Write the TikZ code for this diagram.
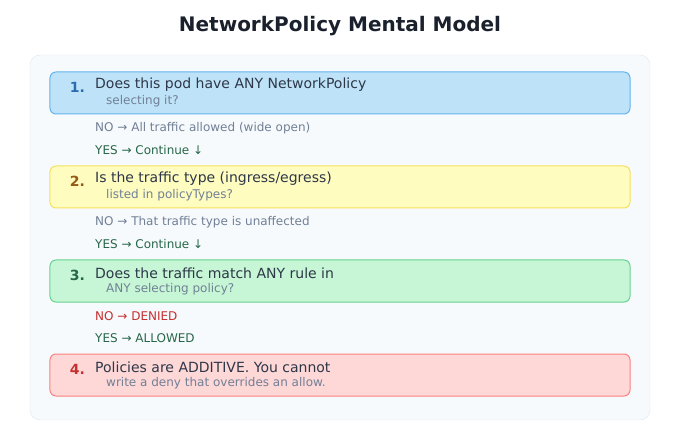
\documentclass[tikz,border=0pt]{standalone}
\usepackage{fontspec}
\setmainfont{DejaVu Sans}
\usepackage{tikz}

\definecolor{panelfill}{HTML}{F7FAFC}
\definecolor{paneldraw}{HTML}{E2E8F0}
\definecolor{bluefill}{HTML}{BEE3F8}
\definecolor{bluedraw}{HTML}{63B3ED}
\definecolor{bluenum}{HTML}{2B6CB0}
\definecolor{yelfill}{HTML}{FEFCBF}
\definecolor{yeldraw}{HTML}{F6E05E}
\definecolor{yelnum}{HTML}{975A16}
\definecolor{grnfill}{HTML}{C6F6D5}
\definecolor{grndraw}{HTML}{68D391}
\definecolor{grnnum}{HTML}{276749}
\definecolor{redfill}{HTML}{FED7D7}
\definecolor{reddraw}{HTML}{FC8181}
\definecolor{rednum}{HTML}{C53030}
\definecolor{maintext}{HTML}{2D3748}
\definecolor{subtext}{HTML}{718096}
\definecolor{titletext}{HTML}{1A202C}

\tikzset{
  stepbox/.style={draw, rounded corners=6bp, line width=1bp, minimum width=580bp, minimum height=42bp, inner sep=0},
  num/.style={anchor=center, inner sep=0, font=\fontsize{14bp}{16bp}\selectfont\bfseries},
  question/.style={anchor=west, inner sep=0, text=maintext, font=\fontsize{14bp}{16bp}\selectfont},
  detail/.style={anchor=west, inner sep=0, text=subtext, font=\fontsize{12bp}{14bp}\selectfont},
  answer/.style={anchor=west, inner sep=0, font=\fontsize{12bp}{14bp}\selectfont}
}

\begin{document}
\begin{tikzpicture}[x=1bp,y=-1bp]
\useasboundingbox[fill=white] (0,0) rectangle (680,440);
\node[text=titletext, font=\fontsize{20bp}{24bp}\selectfont\bfseries] (title) at (340,26) {NetworkPolicy Mental Model};
\draw[fill=panelfill, draw=paneldraw, rounded corners=10bp] (30,55) rectangle (650,420);

% step 1
\node[stepbox, fill=bluefill, draw=bluedraw] (s1) at (340,93) {};
\node[num, text=bluenum] (n1) at (77.5,87) {1.};
\node[question] (q1) at (95,85) {Does this pod have ANY NetworkPolicy};
\node[detail] (d1) at (106,101) {selecting it?};
\node[answer, text=subtext] (no1) at (95,128) {NO → All traffic allowed (wide open)};
\node[answer, text=grnnum] (yes1) at (95,150) {YES → Continue ↓};

% step 2
\node[stepbox, fill=yelfill, draw=yeldraw] (s2) at (340,187) {};
\node[num, text=yelnum] (n2) at (77.5,181) {2.};
\node[question] (q2) at (95,179) {Is the traffic type (ingress/egress)};
\node[detail] (d2) at (106,195) {listed in policyTypes?};
\node[answer, text=subtext] (no2) at (95,222) {NO → That traffic type is unaffected};
\node[answer, text=grnnum] (yes2) at (95,244) {YES → Continue ↓};

% step 3
\node[stepbox, fill=grnfill, draw=grndraw] (s3) at (340,281) {};
\node[num, text=grnnum] (n3) at (77.5,275) {3.};
\node[question] (q3) at (95,273) {Does the traffic match ANY rule in};
\node[detail] (d3) at (106,289) {ANY selecting policy?};
\node[answer, text=rednum] (no3) at (95,316) {NO → DENIED};
\node[answer, text=grnnum] (yes3) at (95,338) {YES → ALLOWED};

% step 4
\node[stepbox, fill=redfill, draw=reddraw] (s4) at (340,375) {};
\node[num, text=rednum] (n4) at (77.5,369) {4.};
\node[question] (q4) at (95,367) {Policies are ADDITIVE. You cannot};
\node[detail] (d4) at (106,383) {write a deny that overrides an allow.};
\end{tikzpicture}
\end{document}
